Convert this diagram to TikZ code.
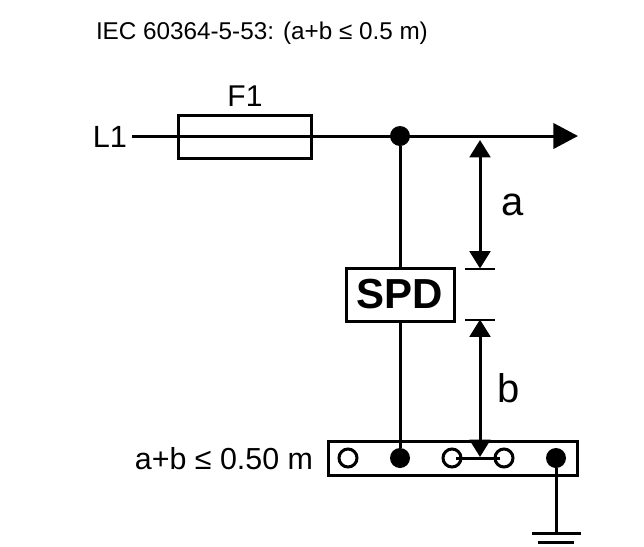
\documentclass[tikz,border=0pt]{standalone}
\usepackage{fontspec}
\setmainfont{Liberation Sans}
\usetikzlibrary{arrows.meta}
\tikzset{
  wire/.style={line width=2.25pt,line cap=butt},
  box/.style={draw,line width=2.25pt,fill=white,inner sep=0pt,outer sep=0pt,rectangle},
  fdot/.style={circle,fill=black,draw=none,minimum size=15pt,inner sep=0pt,outer sep=0pt},
  odot/.style={circle,fill=white,draw,line width=2.25pt,minimum size=13.5pt,inner sep=0pt,outer sep=0pt},
  lbl/.style={inner sep=0pt,outer sep=0pt,anchor=base},
  dim/.style={wire,{Triangle[length=13pt,width=15.5pt]}-{Triangle[length=13pt,width=15.5pt]}},
}
\begin{document}
\begin{tikzpicture}[x=0.75pt,y=-0.75pt]
\useasboundingbox (0,0) rectangle (644,547);
\fill[white] (0,0) rectangle (644,547);
% title
\node[lbl,anchor=base west] (title) at (96,39) {\fontsize{18.2pt}{20pt}\selectfont IEC 60364-5-53: (a+b ≤ 0.5 m)};
% main line
\coordinate (start) at (132,136);
\coordinate (tip) at (578,136);
\draw[wire,-{Triangle[length=18.5pt,width=19pt]}] (start) -- (tip);
\node[box,fill=none,minimum width=99.75pt,minimum height=32.25pt] (F1) at (244.5,136.5) {};
\node[lbl] (F1t) at (245,106) {\fontsize{22.5pt}{25pt}\selectfont F1};
\node[lbl] (L1t) at (110,147) {\fontsize{23pt}{25pt}\selectfont L1};
\node[fdot] (J) at (400,136) {};
% SPD
\node[box,minimum width=81pt,minimum height=39.75pt] (SPD) at (400,294.5) {\fontsize{31.5pt}{33pt}\selectfont\bfseries SPD};
% bar
\node[box,minimum width=186.75pt,minimum height=25.5pt] (bar) at (452.5,458.5) {};
\node[odot] (t1) at (348,458) {};
\node[fdot] (t2) at (400,458) {};
\node[odot] (t3) at (452,458) {};
\node[odot] (t4) at (504,458) {};
\node[fdot] (t5) at (556,458) {};
\draw[wire] (J) -- (SPD);
\draw[wire] (SPD) -- (t2);
\draw[wire] ([xshift=-3pt]t4.center) -- ([xshift=3pt]t3.center);
% dimensions
\coordinate (ta) at (480,140);
\coordinate (ba) at (480,268.5);
\coordinate (tb) at (480,319.5);
\coordinate (bb) at (480,457);
\draw[dim] (ta) -- (ba);
\draw[dim] (tb) -- (bb);
\draw[wire,line width=1.5pt] ([xshift=-11.25pt]ba) -- ([xshift=11.25pt]ba);
\draw[wire,line width=1.5pt] ([xshift=-11.25pt]tb) -- ([xshift=11.25pt]tb);
\node[lbl] (a) at (513,215) {\fontsize{30pt}{32pt}\selectfont a};
\node[lbl] (b) at (509,402) {\fontsize{30pt}{32pt}\selectfont b};
\node[lbl,anchor=base east] (eq) at (313,469) {\fontsize{22.8pt}{25pt}\selectfont a+b ≤ 0.50 m};
% ground
\coordinate (g1) at (556,533);
\draw[wire] (t5) -- (g1);
\draw[wire] ([xshift=-18pt]g1) -- ([xshift=18.75pt]g1);
\coordinate (g2) at (556,542);
\draw[wire] ([xshift=-13.5pt]g2) -- ([xshift=13.5pt]g2);
\end{tikzpicture}
\end{document}
